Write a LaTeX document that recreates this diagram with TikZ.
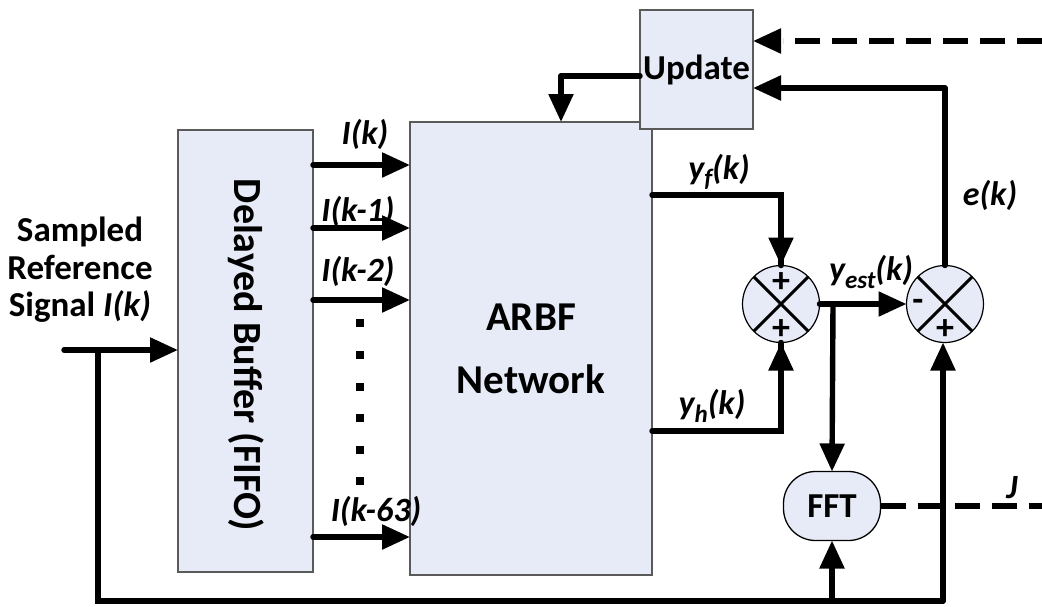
\documentclass[tikz,border=0pt]{standalone}
\usepackage{fontspec}
\setmainfont{Carlito}
\usetikzlibrary{arrows.meta,calc}
\definecolor{boxfill}{RGB}{231,235,247}
\definecolor{boxline}{RGB}{90,90,90}
\begin{document}
\begin{tikzpicture}[x=1pt,y=-1pt,
  blk/.style={draw=boxline,line width=1.3pt,fill=boxfill,inner sep=0pt,outer sep=0pt},
  conn/.style={line width=5.4pt,line cap=round,-{Triangle[length=28pt,width=24pt]}},
  wire/.style={line width=5.4pt,line cap=round},
  dashconn/.style={line width=6.2pt,dash pattern=on 25pt off 12pt},
  lbl/.style={font=\fontsize{34}{36}\selectfont\bfseries\itshape,inner sep=0pt},
  txt/.style={font=\fontsize{35}{40}\selectfont\bfseries,inner sep=0pt},
  sumj/.style={circle,draw=black,line width=1.2pt,fill=boxfill,minimum size=77pt,inner sep=0pt,outer sep=0pt},
  sign/.style={font=\fontsize{36}{36}\selectfont\bfseries,inner sep=0pt},
  dot/.style={fill=black,minimum size=8.5pt,inner sep=0pt}]
\useasboundingbox (0,0) rectangle (1042,606);

% blocks
\node[blk,minimum width=135pt,minimum height=442pt] (buf) at (245.5,351) {};
\node[txt,rotate=-90,font=\fontsize{40}{40}\selectfont\bfseries] (buftxt) at (246,355) {Delayed Buffer (FIFO)};
\node[blk,minimum width=242pt,minimum height=453pt,align=center,
      font=\fontsize{41}{63}\selectfont\bfseries] (arbf) at (531,348.5) {ARBF\\Network};
\node[blk,minimum width=113pt,minimum height=119pt,font=\fontsize{35}{36}\selectfont\bfseries] (upd) at (696.5,69.5) {Update};
\node[blk,draw=black,rounded corners=32pt,minimum width=97pt,minimum height=69pt,
      font=\fontsize{35}{36}\selectfont\bfseries] (fft) at (832,506) {FFT};

% summing junctions
\node[sumj] (s1) at (781,304) {};
\draw[line width=3pt] (s1.45) -- (s1.225) (s1.135) -- (s1.315);
\node[sign] (p1) at (781,283) {+};
\node[sign] (p2) at (781,330) {+};
\node[sumj] (s2) at (945,304) {};
\draw[line width=3pt] (s2.45) -- (s2.225) (s2.135) -- (s2.315);
\node[sign] (m1) at (918,305) {-};
\node[sign] (p3) at (945,330) {+};

% input
\coordinate (in) at (64,350);
\coordinate (br) at (98,350);
\draw[conn] (in) -- (in -| buf.west);
\node[txt,align=center,font=\fontsize{35}{37.5}\selectfont\bfseries] (sig) at (80,270) {Sampled\\Reference\\Signal \textit{I(k)}};

% buffer outputs
\foreach \yy/\nm in {165/o0,228/o1,300/o2,537/o63}{
  \coordinate (\nm) at (313,\yy);
  \draw[conn] (\nm) -- (\nm -| arbf.west);
}
\node[lbl] (l0) at (365,134) {I(k)};
\node[lbl] (l1) at (358,211) {I(k-1)};
\node[lbl] (l2) at (358,271) {I(k-2)};
\node[lbl] (l63) at (376,511) {I(k-63)};
\foreach \yy [count=\i] in {323,355,387,418,450,481}{
  \node[dot] (d\i) at (360,\yy) {};
}

% ARBF outputs
\coordinate (yf) at (652,195);
\coordinate (yh) at (652,431);
\draw[wire] (yf) -| (s1.north);
\draw[conn] (s1.north |- 0,240) -- (s1.north);
\draw[wire] (yh) -| (s1.south);
\draw[conn] (s1.south |- 0,370) -- (s1.south);
\node[lbl] (lyf) at (719,172) {y\raisebox{-0.22em}{\fontsize{25}{25}\selectfont f}(k)};
\node[lbl] (lyh) at (712,406) {y\raisebox{-0.22em}{\fontsize{25}{25}\selectfont h}(k)};

% estimate
\draw[conn] (s1.east) -- (s2.west);
\coordinate (bst) at (833,304);
\draw[conn] (bst) -- (fft.north);
\node[lbl] (lye) at (871,272) {y\raisebox{-0.22em}{\fontsize{25}{25}\selectfont est}(k)};

% error to update
\coordinate (eup) at (945,88);
\draw[wire] (s2.north) -- (eup);
\draw[conn] (eup) -- (eup -| upd.east);
\node[lbl] (le) at (990,195) {e(k)};

% dashed J to update
\coordinate (jin) at (1042,41);
\draw[dashconn] (jin) -- ($(jin -| upd.east)+(30,0)$);
\draw[line width=5.4pt,-{Triangle[length=28pt,width=24pt]}] ($(jin -| upd.east)+(28,0)$) -- (jin -| upd.east);

% update to ARBF
\coordinate (uo) at (640,76);
\coordinate (uc) at (561,76);
\draw[wire] (uo) -- (uc);
\draw[conn] (uc) -- (uc |- arbf.north);

% FFT output
\coordinate (jout) at (1042,506);
\draw[dashconn] (fft.east) -- (jout);
\node[lbl] (lj) at (1012,488) {J};

% bottom loop
\coordinate (bl) at (98,601);
\coordinate (brt) at (943,601);
\draw[wire] (br) -- (bl) -- (brt);
\draw[conn] (brt) -- (s2.south -| brt);
\draw[conn] (fft.south |- bl) -- (fft.south);
\end{tikzpicture}
\end{document}
